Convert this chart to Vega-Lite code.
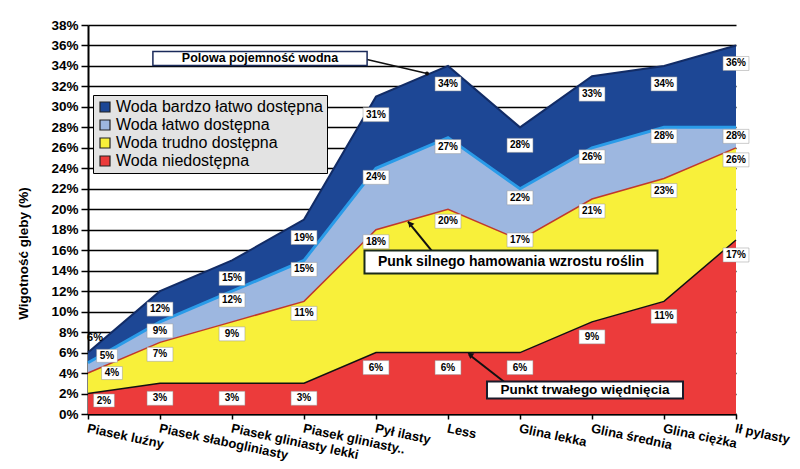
{
  "$schema": "https://vega.github.io/schema/vega-lite/v6.json",
  "width": 648,
  "height": 389,
  "autosize": {"type": "none"},
  "padding": {"left": 88, "top": 25, "right": 64, "bottom": 55},
  "background": "white",
  "config": {
    "view": {"stroke": null},
    "font": "Liberation Sans",
    "axisY": {"labelOverlap": false, "format": ".0%", "labelFontSize": 13.5, "labelFontWeight": "bold", "labelColor": "black", "grid": true, "gridColor": "black", "gridWidth": 1.5, "domainColor": "black", "domainWidth": 2, "tickColor": "black", "tickWidth": 1.5, "tickSize": 7, "labelPadding": 3, "titleFontSize": 13.5, "titleFontWeight": "bold", "titleColor": "black", "titleY": 228}
  },
  "data": {"values": [
    {"soil": "Piasek luźny", "red": 0.02, "yellow": 0.04, "light": 0.05, "dark": 0.06},
    {"soil": "Piasek słabogliniasty", "red": 0.03, "yellow": 0.07, "light": 0.09, "dark": 0.12},
    {"soil": "Piasek gliniasty lekki", "red": 0.03, "yellow": 0.09, "light": 0.12, "dark": 0.15},
    {"soil": "Piasek gliniasty..", "red": 0.03, "yellow": 0.11, "light": 0.15, "dark": 0.19},
    {"soil": "Pył ilasty", "red": 0.06, "yellow": 0.18, "light": 0.24, "dark": 0.31},
    {"soil": "Less", "red": 0.06, "yellow": 0.20, "light": 0.27, "dark": 0.34},
    {"soil": "Glina lekka", "red": 0.06, "yellow": 0.17, "light": 0.22, "dark": 0.28},
    {"soil": "Glina średnia", "red": 0.09, "yellow": 0.21, "light": 0.26, "dark": 0.33},
    {"soil": "Glina ciężka", "red": 0.11, "yellow": 0.23, "light": 0.28, "dark": 0.34},
    {"soil": "Ił pylasty", "red": 0.17, "yellow": 0.26, "light": 0.28, "dark": 0.36}
  ]},
  "encoding": {
    "x": {
      "field": "soil", "type": "ordinal",
      "scale": {"type": "point", "padding": 0, "domain": ["Piasek luźny", "Piasek słabogliniasty", "Piasek gliniasty lekki", "Piasek gliniasty..", "Pył ilasty", "Less", "Glina lekka", "Glina średnia", "Glina ciężka", "Ił pylasty"]},
      "axis": {"title": null, "labelAngle": 12, "labelAlign": "left", "labelBaseline": "top", "labelFontSize": 13, "labelFontWeight": "bold", "labelColor": "black", "domainColor": "black", "domainWidth": 2, "tickColor": "black", "tickWidth": 1.5, "tickSize": 5, "labelPadding": 3, "labelLimit": 250, "labelOverlap": false, "grid": false}
    }
  },
  "layer": [
    {
      "mark": {"type": "area", "opacity": 1},
      "encoding": {
        "y": {"field": "red", "type": "quantitative", "title": "Wigotność gleby (%)",
          "scale": {"domain": [0, 0.38], "nice": false, "zero": true},
          "axis": {"values": [0, 0.02, 0.04, 0.06, 0.08, 0.1, 0.12, 0.14, 0.16, 0.18, 0.2, 0.22, 0.24, 0.26, 0.28, 0.3, 0.32, 0.34, 0.36, 0.38], "tickCount": 20, "titlePadding": 20}},
        "y2": {"datum": 0},
        "color": {"datum": "Woda niedostępna", "type": "nominal",
          "scale": {"domain": ["Woda bardzo łatwo dostępna", "Woda łatwo dostępna", "Woda trudno dostępna", "Woda niedostępna"], "range": ["#1d4795", "#9db7e0", "#f8f03a", "#ec3b3b"]},
          "legend": {"title": null, "orient": "none", "legendX": 5, "legendY": 70, "fillColor": "#e3e3e3", "strokeColor": "black", "padding": 4, "rowPadding": 2, "labelFontSize": 16, "labelColor": "black", "labelLimit": 400, "labelOffset": 3, "symbolType": "square", "symbolSize": 100, "symbolStrokeColor": "#222", "symbolStrokeWidth": 1.2, "symbolOpacity": 1}}
      }
    },
    {
      "mark": {"type": "area", "opacity": 1},
      "encoding": {"y": {"field": "yellow", "type": "quantitative"}, "y2": {"field": "red"}, "color": {"datum": "Woda trudno dostępna", "type": "nominal"}}
    },
    {
      "mark": {"type": "area", "opacity": 1},
      "encoding": {"y": {"field": "light", "type": "quantitative"}, "y2": {"field": "yellow"}, "color": {"datum": "Woda łatwo dostępna", "type": "nominal"}}
    },
    {
      "mark": {"type": "area", "opacity": 1},
      "encoding": {"y": {"field": "dark", "type": "quantitative"}, "y2": {"field": "light"}, "color": {"datum": "Woda bardzo łatwo dostępna", "type": "nominal"}}
    },
    {"mark": {"type": "line", "color": "#111111", "strokeWidth": 1.5}, "encoding": {"y": {"field": "red", "type": "quantitative"}}},
    {"mark": {"type": "line", "color": "#c0392b", "strokeWidth": 1.5}, "encoding": {"y": {"field": "yellow", "type": "quantitative"}}},
    {"mark": {"type": "line", "color": "#2a9be8", "strokeWidth": 3}, "encoding": {"y": {"field": "light", "type": "quantitative"}}},
    {"mark": {"type": "line", "color": "#122c66", "strokeWidth": 2}, "encoding": {"y": {"field": "dark", "type": "quantitative"}}},

    {
      "data": {"values": [{"note": "Polowa pojemność wodna"}]},
      "mark": {"type": "rule", "color": "#111111", "strokeWidth": 1.5, "xOffset": -9, "x2Offset": -21},
      "encoding": {"x": {"datum": "Pył ilasty"}, "y": {"datum": 0.3463}, "x2": {"datum": "Less"}, "y2": {"datum": 0.3326}}
    },
    {
      "data": {"values": [{"note": "Polowa pojemność wodna"}]},
      "mark": {"type": "point", "shape": "circle", "size": 16, "filled": true, "color": "#111111", "opacity": 1, "xOffset": -21},
      "encoding": {"x": {"datum": "Less"}, "y": {"datum": 0.3326}}
    },
    {
      "data": {"values": [{"note": "Polowa pojemność wodna"}]},
      "mark": {"type": "point", "shape": "M-15.3,-1H15.3V1H-15.3Z", "size": 196, "filled": true, "fill": "white", "stroke": "#1a2a5a", "strokeWidth": 1.5, "opacity": 1, "xOffset": 28},
      "encoding": {"x": {"datum": "Piasek gliniasty lekki"}, "y": {"datum": 0.3473}}
    },
    {
      "data": {"values": [{"note": "Polowa pojemność wodna"}]},
      "mark": {"type": "text", "fontSize": 12.5, "fontWeight": "bold", "color": "black", "xOffset": 28, "baseline": "middle", "align": "center"},
      "encoding": {"x": {"datum": "Piasek gliniasty lekki"}, "y": {"datum": 0.3473}, "text": {"field": "note"}}
    },
    {
      "data": {"values": [{"note": "Punk silnego hamowania  wzrostu roślin"}]},
      "mark": {"type": "rule", "color": "#111111", "strokeWidth": 2, "xOffset": -15, "x2Offset": 32},
      "encoding": {"x": {"datum": "Less"}, "y": {"datum": 0.1578}, "x2": {"datum": "Pył ilasty"}, "y2": {"datum": 0.188}}
    },
    {
      "data": {"values": [{"note": "Punk silnego hamowania  wzrostu roślin"}]},
      "mark": {"type": "point", "shape": "triangle-up", "angle": 321, "size": 45, "filled": true, "color": "#111111", "opacity": 1, "xOffset": 34},
      "encoding": {"x": {"datum": "Pył ilasty"}, "y": {"datum": 0.1861}}
    },
    {
      "data": {"values": [{"note": "Punk silnego hamowania  wzrostu roślin"}]},
      "mark": {"type": "point", "shape": "M-12.74,-1H12.74V1H-12.74Z", "size": 529, "filled": true, "fill": "white", "stroke": "#1a2a1a", "strokeWidth": 2, "opacity": 1, "xOffset": 63},
      "encoding": {"x": {"datum": "Less"}, "y": {"datum": 0.1485}}
    },
    {
      "data": {"values": [{"note": "Punk silnego hamowania  wzrostu roślin"}]},
      "mark": {"type": "text", "fontSize": 14, "fontWeight": "bold", "color": "black", "xOffset": 63, "baseline": "middle", "align": "center"},
      "encoding": {"x": {"datum": "Less"}, "y": {"datum": 0.1485}, "text": {"field": "note"}}
    },
    {
      "data": {"values": [{"note": "Punkt trwałego więdnięcia"}]},
      "mark": {"type": "rule", "color": "#111111", "strokeWidth": 2, "xOffset": -15, "x2Offset": 21},
      "encoding": {"x": {"datum": "Glina lekka"}, "y": {"datum": 0.0308}, "x2": {"datum": "Less"}, "y2": {"datum": 0.0581}}
    },
    {
      "data": {"values": [{"note": "Punkt trwałego więdnięcia"}]},
      "mark": {"type": "point", "shape": "triangle-up", "angle": 307, "size": 45, "filled": true, "color": "#111111", "opacity": 1, "xOffset": 22},
      "encoding": {"x": {"datum": "Less"}, "y": {"datum": 0.0581}}
    },
    {
      "data": {"values": [{"note": "Punkt trwałego więdnięcia"}]},
      "mark": {"type": "point", "shape": "M-11.53,-1H11.53V1H-11.53Z", "size": 289, "filled": true, "fill": "white", "stroke": "#1a1a2a", "strokeWidth": 2, "opacity": 1, "xOffset": -7},
      "encoding": {"x": {"datum": "Glina średnia"}, "y": {"datum": 0.0234}}
    },
    {
      "data": {"values": [{"note": "Punkt trwałego więdnięcia"}]},
      "mark": {"type": "text", "fontSize": 13.5, "fontWeight": "bold", "color": "black", "xOffset": -7, "baseline": "middle", "align": "center"},
      "encoding": {"x": {"datum": "Glina średnia"}, "y": {"datum": 0.0234}, "text": {"field": "note"}}
    },

    {
      "transform": [{"filter": "datum.soil !== 'Piasek luźny'"}],
      "mark": {"type": "point", "shape": "M-1.85,-1H1.85V1H-1.85Z", "size": 196, "filled": true, "fill": "white", "stroke": "#999999", "strokeWidth": 0.5, "opacity": 1, "yOffset": 15},
      "encoding": {"y": {"field": "red", "type": "quantitative"}}
    },
    {
      "transform": [{"filter": "datum.soil !== 'Piasek luźny'"}],
      "mark": {"type": "text", "fontSize": 10, "fontWeight": "bold", "color": "black", "yOffset": 15, "baseline": "middle", "align": "center"},
      "encoding": {"y": {"field": "red", "type": "quantitative"}, "text": {"field": "red", "type": "quantitative", "format": ".0%"}}
    },
    {
      "transform": [{"filter": "datum.soil !== 'Piasek luźny' && datum.soil !== 'Glina lekka'"}],
      "mark": {"type": "point", "shape": "M-1.85,-1H1.85V1H-1.85Z", "size": 196, "filled": true, "fill": "white", "stroke": "#999999", "strokeWidth": 0.5, "opacity": 1, "yOffset": 12},
      "encoding": {"y": {"field": "yellow", "type": "quantitative"}}
    },
    {
      "transform": [{"filter": "datum.soil !== 'Piasek luźny' && datum.soil !== 'Glina lekka'"}],
      "mark": {"type": "text", "fontSize": 10, "fontWeight": "bold", "color": "black", "yOffset": 12, "baseline": "middle", "align": "center"},
      "encoding": {"y": {"field": "yellow", "type": "quantitative"}, "text": {"field": "yellow", "type": "quantitative", "format": ".0%"}}
    },
    {
      "transform": [{"filter": "datum.soil === 'Glina lekka'"}],
      "mark": {"type": "point", "shape": "M-1.85,-1H1.85V1H-1.85Z", "size": 196, "filled": true, "fill": "white", "stroke": "#999999", "strokeWidth": 0.5, "opacity": 1, "yOffset": 0},
      "encoding": {"y": {"field": "yellow", "type": "quantitative"}}
    },
    {
      "transform": [{"filter": "datum.soil === 'Glina lekka'"}],
      "mark": {"type": "text", "fontSize": 10, "fontWeight": "bold", "color": "black", "yOffset": 0, "baseline": "middle", "align": "center"},
      "encoding": {"y": {"field": "yellow", "type": "quantitative"}, "text": {"field": "yellow", "type": "quantitative", "format": ".0%"}}
    },
    {
      "transform": [{"filter": "datum.soil !== 'Piasek luźny'"}],
      "mark": {"type": "point", "shape": "M-1.85,-1H1.85V1H-1.85Z", "size": 196, "filled": true, "fill": "white", "stroke": "#999999", "strokeWidth": 0.5, "opacity": 1, "yOffset": 9},
      "encoding": {"y": {"field": "light", "type": "quantitative"}}
    },
    {
      "transform": [{"filter": "datum.soil !== 'Piasek luźny'"}],
      "mark": {"type": "text", "fontSize": 10, "fontWeight": "bold", "color": "black", "yOffset": 9, "baseline": "middle", "align": "center"},
      "encoding": {"y": {"field": "light", "type": "quantitative"}, "text": {"field": "light", "type": "quantitative", "format": ".0%"}}
    },
    {
      "transform": [{"filter": "datum.soil !== 'Piasek luźny'"}],
      "mark": {"type": "point", "shape": "M-1.85,-1H1.85V1H-1.85Z", "size": 196, "filled": true, "fill": "white", "stroke": "#999999", "strokeWidth": 0.5, "opacity": 1, "yOffset": 18},
      "encoding": {"y": {"field": "dark", "type": "quantitative"}}
    },
    {
      "transform": [{"filter": "datum.soil !== 'Piasek luźny'"}],
      "mark": {"type": "text", "fontSize": 10, "fontWeight": "bold", "color": "black", "yOffset": 18, "baseline": "middle", "align": "center"},
      "encoding": {"y": {"field": "dark", "type": "quantitative"}, "text": {"field": "dark", "type": "quantitative", "format": ".0%"}}
    },

    {
      "transform": [{"filter": "datum.soil === 'Piasek luźny'"}],
      "mark": {"type": "point", "shape": "M-1.6,-1H1.6V1H-1.6Z", "size": 169, "filled": true, "fill": "white", "stroke": "#999999", "strokeWidth": 0.5, "opacity": 1, "xOffset": 16, "yOffset": 7},
      "encoding": {"y": {"field": "red", "type": "quantitative"}}
    },
    {
      "transform": [{"filter": "datum.soil === 'Piasek luźny'"}],
      "mark": {"type": "text", "fontSize": 10, "fontWeight": "bold", "color": "black", "xOffset": 16, "yOffset": 7, "baseline": "middle", "align": "center"},
      "encoding": {"y": {"field": "red", "type": "quantitative"}, "text": {"field": "red", "type": "quantitative", "format": ".0%"}}
    },
    {
      "transform": [{"filter": "datum.soil === 'Piasek luźny'"}],
      "mark": {"type": "point", "shape": "M-1.6,-1H1.6V1H-1.6Z", "size": 169, "filled": true, "fill": "white", "stroke": "#999999", "strokeWidth": 0.5, "opacity": 1, "xOffset": 24, "yOffset": 0},
      "encoding": {"y": {"field": "yellow", "type": "quantitative"}}
    },
    {
      "transform": [{"filter": "datum.soil === 'Piasek luźny'"}],
      "mark": {"type": "text", "fontSize": 10, "fontWeight": "bold", "color": "black", "xOffset": 24, "yOffset": 0, "baseline": "middle", "align": "center"},
      "encoding": {"y": {"field": "yellow", "type": "quantitative"}, "text": {"field": "yellow", "type": "quantitative", "format": ".0%"}}
    },
    {
      "transform": [{"filter": "datum.soil === 'Piasek luźny'"}],
      "mark": {"type": "point", "shape": "M-1.6,-1H1.6V1H-1.6Z", "size": 169, "filled": true, "fill": "white", "stroke": "#999999", "strokeWidth": 0.5, "opacity": 1, "xOffset": 19, "yOffset": -7},
      "encoding": {"y": {"field": "light", "type": "quantitative"}}
    },
    {
      "transform": [{"filter": "datum.soil === 'Piasek luźny'"}],
      "mark": {"type": "text", "fontSize": 10, "fontWeight": "bold", "color": "black", "xOffset": 19, "yOffset": -7, "baseline": "middle", "align": "center"},
      "encoding": {"y": {"field": "light", "type": "quantitative"}, "text": {"field": "light", "type": "quantitative", "format": ".0%"}}
    },
    {
      "transform": [{"filter": "datum.soil === 'Piasek luźny'"}],
      "mark": {"type": "text", "fontSize": 11, "fontWeight": "bold", "color": "black", "xOffset": 7, "yOffset": -15, "baseline": "middle", "align": "center"},
      "encoding": {"y": {"field": "dark", "type": "quantitative"}, "text": {"field": "dark", "type": "quantitative", "format": ".0%"}}
    }
  ]
}
